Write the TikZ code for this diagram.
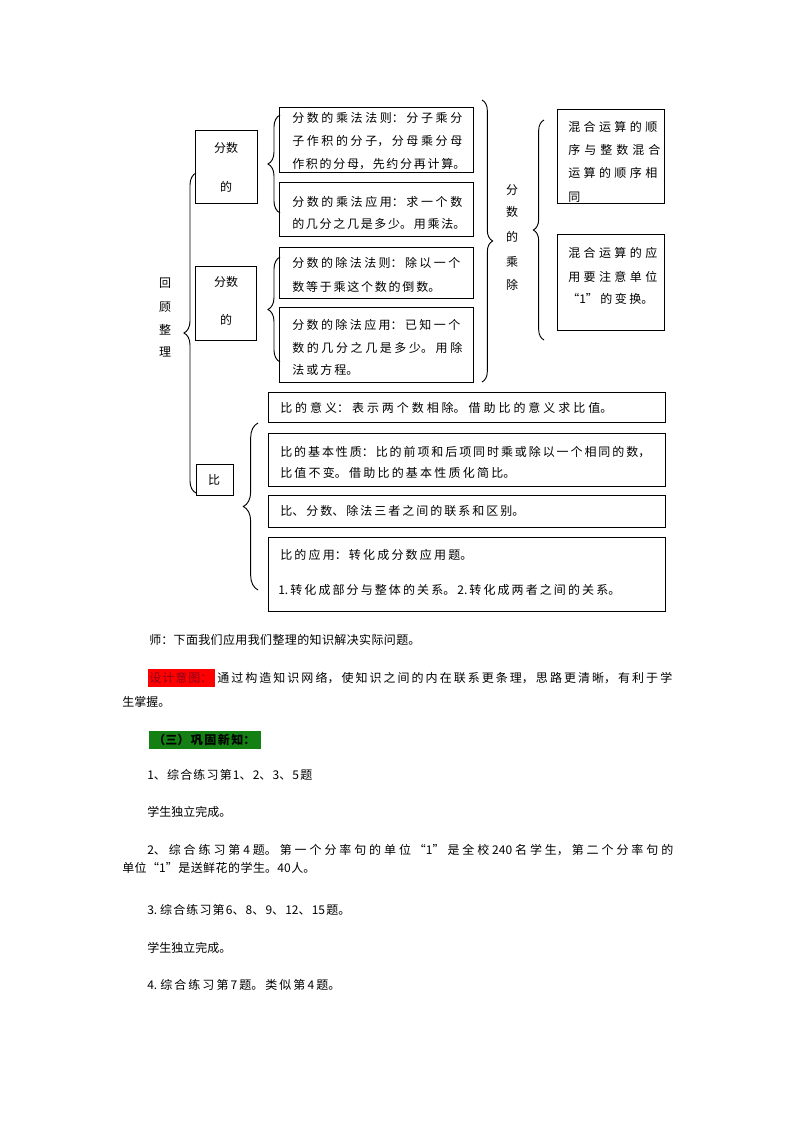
\documentclass[tikz,border=0pt]{standalone}
\usepackage{fontspec}
\setmainfont{Noto Sans CJK SC}
\usetikzlibrary{decorations.pathreplacing,fit}
\XeTeXlinebreaklocale "zh"
\XeTeXlinebreakskip=0pt plus 6pt
\XeTeXlinebreakpenalty=10000
\hbadness=10000
\hfuzz=50pt
\newcommand{\jl}[2]{\parbox{\dimexpr 0.75pt*#1\relax}{\parfillskip=0pt\relax #2}}
\definecolor{hlred}{RGB}{255,0,0}
\definecolor{hltext}{RGB}{140,0,30}
\definecolor{hlgreen}{RGB}{20,128,20}
\tikzset{
  box/.style={draw, line width=0.75pt, inner sep=0pt},
  txt/.style={anchor=west, inner sep=0pt, font=\fontsize{9pt}{11pt}\selectfont},
  ctxt/.style={inner sep=0pt, font=\fontsize{9pt}{11pt}\selectfont},
  brc/.style={decorate, decoration={brace, amplitude=#1}, line width=0.7pt},
  brc/.default=9pt
}
\begin{document}
\begin{tikzpicture}[x=0.75pt,y=-0.75pt]
\path[use as bounding box] (0,0) rectangle (794,1123);

% ---- vertical labels ----
\node[ctxt] (h1) at (165,283) {回};
\node[ctxt] (h2) at (165,307) {顾};
\node[ctxt] (h3) at (165,330) {整};
\node[ctxt] (h4) at (165,352) {理};

\node[ctxt] (m1) at (512,190) {分};
\node[ctxt] (m2) at (512,212) {数};
\node[ctxt] (m3) at (512,237) {的};
\node[ctxt] (m4) at (512,262) {乘};
\node[ctxt] (m5) at (512,285) {除};

% ---- small label boxes ----
\node[box, fit={(195,131) (257,204)}] (P1) {};
\node[ctxt] (p1a) at (226,148) {分数};
\node[ctxt] (p1b) at (226,187) {的};
\node[box, fit={(195,266) (256,340)}] (P2) {};
\node[ctxt] (p2a) at (226,282) {分数};
\node[ctxt] (p2b) at (226,320) {的};
\node[box, fit={(196,464) (233,495)}] (P3) {};
\node[ctxt] (p3a) at (214,480) {比};

% ---- fraction boxes ----
\node[box, fit={(279,108) (473,173)}] (A1) {};
\node[txt] (a11) at (292,118) {\jl{170}{分数的乘法法则：分子乘分}};
\node[txt] (a12) at (292,141) {\jl{170}{子作积的分子，分母乘分母}};
\node[txt] (a13) at (292,164) {\jl{173}{作积的分母，先约分再计算。}};
\node[box, fit={(279,183) (473,237)}] (A2) {};
\node[txt] (a21) at (292,202) {\jl{170}{分数的乘法应用：求一个数}};
\node[txt] (a22) at (292,224) {\jl{173}{的几分之几是多少。用乘法。}};
\node[box, fit={(279,247) (473,298)}] (B1) {};
\node[txt] (b11) at (292,263) {\jl{168}{分数的除法法则：除以一个}};
\node[txt] (b12) at (292,287) {\jl{148}{数等于乘这个数的倒数。}};
\node[box, fit={(279,307) (473,382)}] (B2) {};
\node[txt] (b21) at (292,325) {\jl{168}{分数的除法应用：已知一个}};
\node[txt] (b22) at (292,348) {\jl{170}{数的几分之几是多少。用除}};
\node[txt] (b23) at (292,370) {\jl{66}{法或方程。}};

% ---- mixed operation boxes ----
\node[box, fit={(557,110) (664,204)}] (C1) {};
\node[txt] (c11) at (568,127) {\jl{89}{混合运算的顺}};
\node[txt] (c12) at (568,150) {\jl{92}{序与整数混合}};
\node[txt] (c13) at (568,173) {\jl{89}{运算的顺序相}};
\node[txt] (c14) at (568,197) {同};
\node[box, fit={(557,235) (664,330)}] (C2) {};
\node[txt] (c21) at (568,253) {\jl{89}{混合运算的应}};
\node[txt] (c22) at (568,277) {\jl{89}{用要注意单位}};
\node[txt] (c23) at (567,299) {\jl{86}{“1”的变换。}};

% ---- ratio boxes ----
\node[box, fit={(268,392) (665,422)}] (R1) {};
\node[txt] (r11) at (280,408) {\jl{332}{比的意义：表示两个数相除。借助比的意义求比值。}};
\node[box, fit={(268,433) (665,486)}] (R2) {};
\node[txt] (r21) at (280,452) {\jl{370}{比的基本性质：比的前项和后项同时乘或除以一个相同的数，}};
\node[txt] (r22) at (280,473) {\jl{235}{比值不变。借助比的基本性质化简比。}};
\node[box, fit={(268,495) (665,527)}] (R3) {};
\node[txt] (r31) at (280,511) {\jl{244}{比、分数、除法三者之间的联系和区别。}};
\node[box, fit={(268,537) (665,611)}] (R4) {};
\node[txt] (r41) at (280,555) {\jl{192}{比的应用：转化成分数应用题。}};
\node[txt] (r42) at (278,590) {\jl{342}{1.转化成部分与整体的关系。2.转化成两者之间的关系。}};

% ---- braces ----
\coordinate (g1) at (196,493); \coordinate (g2) at (196,173);
\draw[brc=9pt] (g1) -- (g2);
\coordinate (ga1) at (280,213); \coordinate (ga2) at (280,115);
\draw[brc=9pt] (ga1) -- (ga2);
\coordinate (gb1) at (280,362); \coordinate (gb2) at (280,257);
\draw[brc=9pt] (gb1) -- (gb2);
\coordinate (gr1) at (482,100); \coordinate (gr2) at (482,382);
\draw[brc=8pt] (gr1) -- (gr2);
\coordinate (gc1) at (544,340); \coordinate (gc2) at (544,120);
\draw[brc=8pt] (gc1) -- (gc2);
\coordinate (gq1) at (258,590); \coordinate (gq2) at (258,423);
\draw[brc=11pt] (gq1) -- (gq2);

% ---- text below ----
\node[txt] (t1) at (149,640) {\jl{271}{师：下面我们应用我们整理的知识解决实际问题。}};
\node[fill=hlred, inner sep=0pt, fit={(148,669) (215,687)}] (red) {};
\node[txt, text=hltext] (t2a) at (149,678) {\jl{63}{设计意图：}};
\node[txt] (t2b) at (217,678) {\jl{455}{通过构造知识网络，使知识之间的内在联系更条理，思路更清晰，有利于学}};
\node[txt] (t3) at (122,702) {生掌握。};
\node[fill=hlgreen, inner sep=0pt, fit={(149,731) (261,749)}] (green) {};
\node[txt, font=\fontsize{9pt}{11pt}\selectfont\bfseries] (t4) at (153,740) {\jl{102}{（三）巩固新知：}};
\node[txt] (t5) at (147,775) {\jl{165}{1、综合练习第1、2、3、5题}};
\node[txt] (t6) at (147,812) {学生独立完成。};
\node[txt] (t7) at (147,850) {\jl{526}{2、综合练习第4题。第一个分率句的单位“1”是全校240名学生，第二个分率句的}};
\node[txt] (t8) at (122,868) {\jl{193}{单位“1”是送鲜花的学生。40人。}};
\node[txt] (t9) at (147,910) {\jl{203}{3.~综合练习第6、8、9、12、15题。}};
\node[txt] (t10) at (147,948) {学生独立完成。};
\node[txt] (t11) at (147,985) {\jl{193}{4.~综合练习第7题。类似第4题。}};
\end{tikzpicture}
\end{document}
